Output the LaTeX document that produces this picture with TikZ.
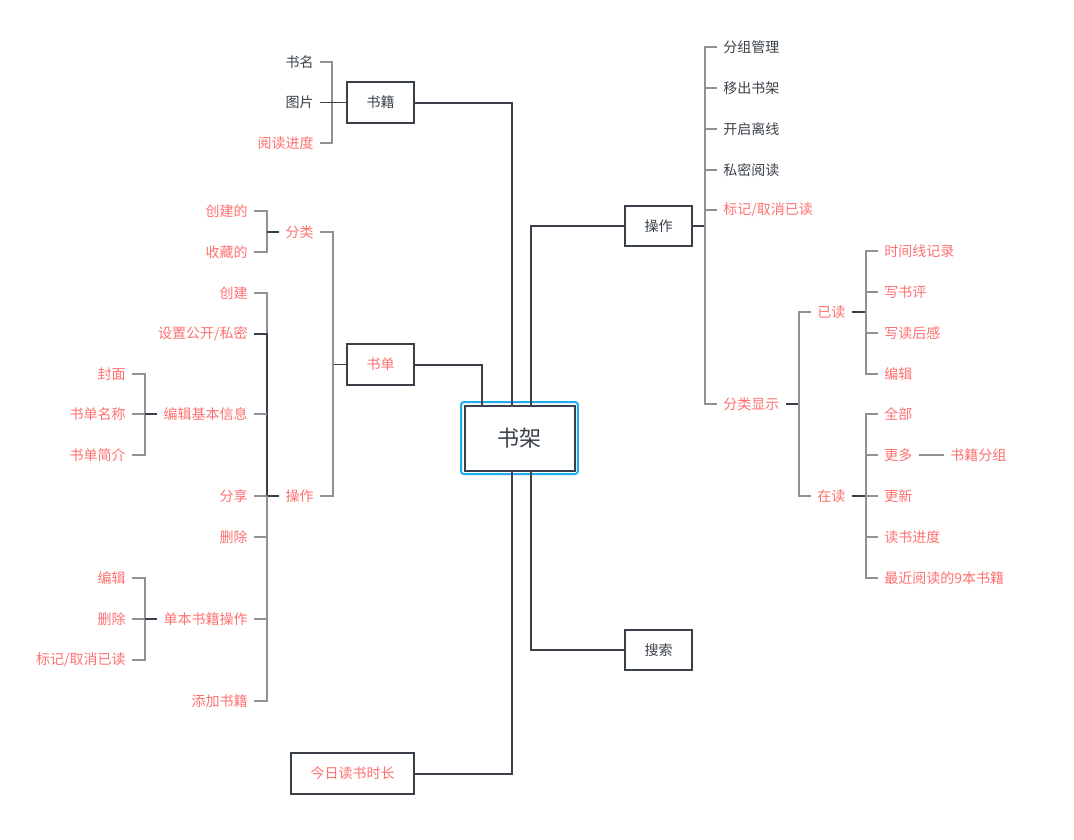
\documentclass[tikz,border=0pt]{standalone}
\usepackage{fontspec}
\setmainfont{Noto Sans CJK SC}
\usepackage{tikz}
\usetikzlibrary{positioning}
\definecolor{inkdark}{HTML}{3A4149}
\definecolor{inkred}{HTML}{FF7070}
\definecolor{linegray}{HTML}{8C9298}
\definecolor{glowcyan}{HTML}{1AB0EE}
\tikzset{
  topicbox/.style={draw=inkdark,line width=1.5pt,fill=white,minimum width=50pt,
    minimum height=30.5pt,inner sep=2pt,font=\fontsize{10.5}{12}\selectfont,text=inkdark},
  rootbox/.style={topicbox,minimum width=82.5pt,minimum height=48.75pt,
    font=\fontsize{16.5}{18}\selectfont},
  leftleaf/.style={anchor=east,inner sep=4.5pt,font=\fontsize{10.5}{12}\selectfont,text=inkdark},
  rightleaf/.style={leftleaf,anchor=west},
  redtext/.style={text=inkred},
  trunk/.style={draw=inkdark,line width=1.5pt},
  branch/.style={draw=linegray,line width=1pt},
  stem/.style={draw=inkdark,line width=1pt}
}

\begin{document}
\begin{tikzpicture}[x=0.75pt,y=-0.75pt]
  \useasboundingbox (0,0) rectangle (1074,839);
  % centre
  \node[draw=glowcyan,line width=1.5pt,rounded corners=2pt,minimum width=87.5pt,
    minimum height=54pt] (glow) at (519.5,438) {};
  \node[rootbox] (root) at (519.5,438) {书架};
  \node[topicbox] (sj) at (380.5,102.5) {书籍};
  \node[topicbox,redtext] (sd) at (380.5,364.5) {书单};
  \node[topicbox] (cz) at (658.5,226) {操作};
  \node[topicbox] (ss) at (658.5,650) {搜索};
  \node[topicbox,redtext,minimum width=92pt] (jr) at (352.5,773.5) {今日读书时长};
  \draw[trunk] (sj.east) -| ([xshift=-5.6pt]root.north);
  \draw[trunk] (sd.east) -| ([xshift=-28.1pt]root.north);
  \draw[trunk] (cz.west) -| ([xshift=8.6pt]root.north);
  \draw[trunk] (ss.west) -| ([xshift=8.6pt]root.south);
  \draw[trunk] (jr.east) -| ([xshift=-5.6pt]root.south);

  % 书籍
  \node[leftleaf] (sm) at (320,62) {书名};
  \node[leftleaf] (tp) at (320,102.5) {图片};
  \node[leftleaf,redtext] (ydj) at (320,143) {阅读进度};
  \coordinate (j1) at (332,102.5);
  \draw[branch] (sm.east) -| (j1) |- (ydj.east);
  \draw[stem] (tp.east) -- (j1) -- (sj.west);

  % 操作
  \node[rightleaf] (fzgl) at (717,47) {分组管理};
  \node[rightleaf] (ycsj) at (717,88) {移出书架};
  \node[rightleaf] (kqlx) at (717,129) {开启离线};
  \node[rightleaf] (smyd) at (717,170) {私密阅读};
  \node[rightleaf,redtext] (bjqx) at (717,210) {标记/取消已读};
  \node[rightleaf,redtext] (flxs) at (717,404) {分类显示};
  \coordinate (jc) at (705,226);
  \draw[stem] (cz.east) -- (jc);
  \draw[branch] (fzgl.west) -| (jc) |- (flxs.west);
  \draw[branch] (ycsj.west -| jc) -- (ycsj.west);
  \draw[branch] (kqlx.west -| jc) -- (kqlx.west);
  \draw[branch] (smyd.west -| jc) -- (smyd.west);
  \draw[branch] (bjqx.west -| jc) -- (bjqx.west);

  % 分类显示
  \node[rightleaf,redtext] (yd) at (811,312) {已读};
  \node[rightleaf,redtext] (zd) at (811,496) {在读};
  \coordinate (jfx) at (799,404);
  \draw[stem] (flxs.east) -- (jfx);
  \draw[branch] (yd.west) -| (jfx) |- (zd.west);

  \node[rightleaf,redtext] (sjx) at (878,251) {时间线记录};
  \node[rightleaf,redtext] (xsp) at (878,292) {写书评};
  \node[rightleaf,redtext] (xdhg) at (878,333) {写读后感};
  \node[rightleaf,redtext] (bji) at (878,374) {编辑};
  \coordinate (jyd) at (866,312);
  \draw[stem] (yd.east) -- (jyd);
  \draw[branch] (sjx.west) -| (jyd) |- (bji.west);
  \draw[branch] (xsp.west -| jyd) -- (xsp.west);
  \draw[branch] (xdhg.west -| jyd) -- (xdhg.west);

  \node[rightleaf,redtext] (qb) at (878,414) {全部};
  \node[rightleaf,redtext] (gd) at (878,455) {更多};
  \node[rightleaf,redtext] (gx) at (878,496) {更新};
  \node[rightleaf,redtext] (dsjd) at (878,537) {读书进度};
  \node[rightleaf,redtext] (zjyd) at (878,578) {最近阅读的9本书籍};
  \node[rightleaf,redtext] (sjfz) at (944,455) {书籍分组};
  \coordinate (jzd) at (866,496);
  \draw[stem] (zd.east) -- (jzd);
  \draw[branch] (qb.west) -| (jzd) |- (zjyd.west);
  \draw[branch] (gd.west -| jzd) -- (gd.west);
  \draw[branch] (jzd) -- (gx.west);
  \draw[branch] (dsjd.west -| jzd) -- (dsjd.west);
  \draw[branch] (gd.east) -- (sjfz.west);

  % 书单
  \node[leftleaf,redtext] (fl) at (320,232) {分类};
  \node[leftleaf,redtext] (czl) at (320,496) {操作};
  \coordinate (jsd) at (333,364.5);
  \draw[stem] (jsd) -- (sd.west);
  \draw[branch] (fl.east) -| (jsd) |- (czl.east);

  \node[leftleaf,redtext] (cjd) at (254,211) {创建的};
  \node[leftleaf,redtext] (scd) at (254,252) {收藏的};
  \coordinate (jfl) at (267,232);
  \draw[branch] (cjd.east) -| (jfl) |- (scd.east);
  \draw[stem] (jfl) -- (fl.west);

  \node[leftleaf,redtext] (cj) at (254,293) {创建};
  \node[leftleaf,redtext] (szgk) at (254,334) {设置公开/私密};
  \node[leftleaf,redtext] (bjxx) at (254,414) {编辑基本信息};
  \node[leftleaf,redtext] (fx) at (254,496) {分享};
  \node[leftleaf,redtext] (sc) at (254,537) {删除};
  \node[leftleaf,redtext] (dbcz) at (254,619) {单本书籍操作};
  \node[leftleaf,redtext] (tjsj) at (254,701) {添加书籍};
  \coordinate (jcz) at (267,496);
  \draw[stem] (jcz) -- (czl.west);
  \draw[branch] (cj.east) -| (jcz) |- (tjsj.east);
  \draw[stem] (szgk.east) -| (jcz);
  \draw[branch] (bjxx.east) -- (bjxx.east -| jcz);
  \draw[branch] (fx.east) -- (jcz);
  \draw[branch] (sc.east) -- (sc.east -| jcz);
  \draw[branch] (dbcz.east) -- (dbcz.east -| jcz);

  \node[leftleaf,redtext] (fm) at (132,374) {封面};
  \node[leftleaf,redtext] (sdmc) at (132,414) {书单名称};
  \node[leftleaf,redtext] (sdjj) at (132,455) {书单简介};
  \coordinate (jbj) at (145,414);
  \draw[branch] (fm.east) -| (jbj) |- (sdjj.east);
  \draw[branch] (sdmc.east) -- (jbj);
  \draw[stem] (jbj) -- (bjxx.west);

  \node[leftleaf,redtext] (bj2) at (132,578) {编辑};
  \node[leftleaf,redtext] (sc2) at (132,619) {删除};
  \node[leftleaf,redtext] (bjqx2) at (132,660) {标记/取消已读};
  \coordinate (jdb) at (145,619);
  \draw[branch] (bj2.east) -| (jdb) |- (bjqx2.east);
  \draw[branch] (sc2.east) -- (jdb);
  \draw[stem] (jdb) -- (dbcz.west);
\end{tikzpicture}
\end{document}
